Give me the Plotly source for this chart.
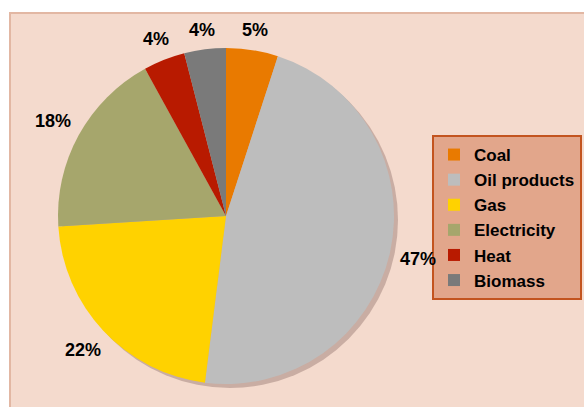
import math
import plotly.graph_objects as go

labels = ["Coal", "Oil products", "Gas", "Electricity", "Heat", "Biomass"]
values = [5, 47, 22, 18, 4, 4]
colors = ["#e97a00", "#bdbdbd", "#ffd200", "#a6a66c", "#b81a00", "#7a7a7a"]

W, H = 584, 407
cx, cy, r = 226, 216, 168
FS = 18

def dom(cx, cy, r):
    return dict(x=[(cx - r) / W, (cx + r) / W], y=[1 - (cy + r) / H, 1 - (cy - r) / H])

fig = go.Figure()
fig.add_trace(go.Pie(
    values=[1], labels=["shadow"], marker=dict(colors=["#c9ada3"], line=dict(width=0)),
    domain=dom(cx + 4, cy + 4, r), textinfo="none", hoverinfo="skip",
    showlegend=False, sort=False,
))
fig.add_trace(go.Pie(
    labels=labels, values=values, sort=False, direction="clockwise", rotation=0,
    marker=dict(colors=colors, line=dict(width=0)),
    textinfo="none", domain=dom(cx, cy, r),
))

# percentage labels placed just outside each slice's mid-angle
total = sum(values)
annotations = []
acc = 0
for v in values:
    theta = (acc + v / 2) / total * 2 * math.pi
    acc += v
    txt = f"{round(100 * v / total)}%"
    w = 0.556 * FS * (len(txt) - 1) + 0.889 * FS
    h = FS
    s, c = math.sin(theta), math.cos(theta)
    d = r + 9 + abs(s) * w / 2 + abs(c) * h / 2
    px = cx + d * s
    py = cy - d * c
    annotations.append(dict(
        x=px / W, y=1 - py / H, xref="paper", yref="paper", text=f"<b>{txt}</b>",
        showarrow=False, xanchor="center", yanchor="middle",
        font=dict(family="Liberation Sans", size=FS, color="#000000"),
    ))

fig.update_layout(
    width=W, height=H, margin=dict(l=0, r=0, t=0, b=0),
    paper_bgcolor="#ffffff",
    annotations=annotations,
    shapes=[dict(type="rect", xref="paper", yref="paper",
                 x0=10 / W, x1=1.01, y0=-0.01, y1=1 - 13 / H,
                 fillcolor="#f4dacd", line=dict(color="#e2b7a3", width=2), layer="below")],
    legend=dict(x=582 / W, y=1 - 135 / H, xanchor="right", yanchor="top",
                bgcolor="#e2a68b", bordercolor="#c3541f", borderwidth=2,
                font=dict(family="Liberation Sans", size=17, color="#000000", weight="bold"),
                tracegroupgap=0, itemwidth=30),
)
fig.write_html("out.html")
